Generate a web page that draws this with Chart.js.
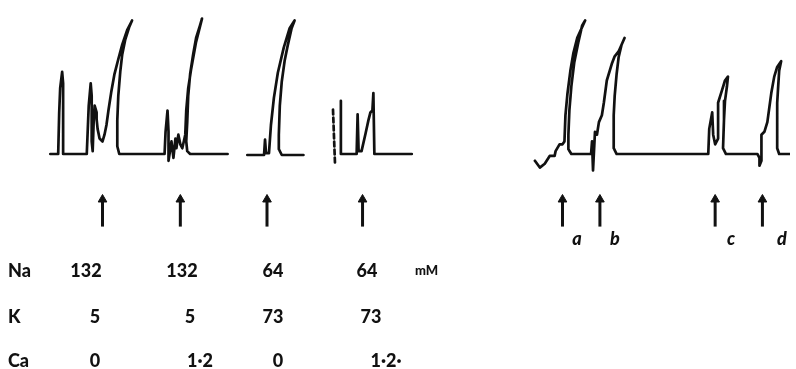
<!DOCTYPE html>
<html>
<head>
<meta charset="utf-8">
<script src="https://cdn.jsdelivr.net/npm/chart.js@4/dist/chart.umd.min.js"></script>
<style>
  html, body { margin: 0; padding: 0; background: #fff; }
  #wrap { position: relative; width: 796px; height: 369px; overflow: hidden; }
  canvas { position: absolute; left: 0; top: 0; }
  .t { position: absolute; font-family: Lato, "Open Sans", sans-serif; font-weight: 900; font-size: 18px; color: #111; transform: translate(-50%, -50%); white-space: nowrap; line-height: 1; }
  .l { transform: translate(0, -50%); }
  .unit { font-size: 13px; transform: translate(0, -50%); }
  .lab { font-style: italic; font-size: 18px; }
</style>
</head>
<body>
<div id="wrap">
<canvas id="c" width="796" height="369"></canvas>
</div>
<script>
// ---- Data (time units, deflection above baseline) ----
// Left record, first sweep (Na 132 / K 5, Ca 0 then Ca 1.2)
const sweep1 = [[45,0],[53,0],[54,43],[55,68],[57,85],[58,73],[58,33],[58,0],[82,0],[84,50],[86,73],[87,60],[87,13],[88,3],[89,33],[90,50],[92,43],[92,36],[93,26],[95,16],[98,13],[100,20],[102,30],[104,45],[107,65],[110,82],[114,98],[118,113],[123,128],[128,138],[125,131],[121,118],[118,103],[116,85],[114,60],[113,35],[113,8],[115,0],[161,0],[162,23],[164,45],[165,23],[165,-7],[168,13],[170,-4],[172,16],[173,6],[175,20],[177,10],[179,6],[182,20],[183,45],[185,68],[188,88],[193,116],[199,140],[197,133],[193,120],[190,103],[187,83],[185,60],[184,33],[183,13],[184,3],[187,0],[225,0]];
// Left record, Na 64 / K 73, Ca 0
const sweep2 = [[245,-1],[262,-1],[263,15],[264,1],[267,1],[269,30],[272,58],[276,84],[282,110],[288,130],[293,138],[290,130],[286,112],[283,97],[280,75],[278,50],[277,20],[277,5],[280,-1],[302,-1]];
// Left record, Na 64 / K 73, Ca 1.2 (broken pen fragment then trace)
const sweep3Fragment = [[332,46],[334,-9]];
const sweep3 = [[340,55],[340,0],[356,0],[357,41],[358,3],[361,3],[365,21],[368,35],[370,43],[372,45],[373,63],[374,0],[412,0]];
// Right record, stimuli a-d
const sweep4 = [[537,-7],[542,-14],[547,-10],[552,-2],[557,-2],[558,3],[562,10],[565,10],[567,13],[568,40],[570,62],[573,86],[576,104],[580,120],[588,138],[585,133],[581,115],[577,95],[574,70],[572,45],[571,20],[571,5],[574,0],[594,0],[595,13],[596,-17],[598,23],[600,20],[602,33],[605,40],[607,53],[610,76],[615,93],[618,101],[622,106],[628,120],[625,113],[622,100],[620,83],[618,60],[617,40],[617,6],[620,0],[713,0],[714,26],[717,43],[718,20],[720,10],[723,16],[723,53],[727,66],[730,76],[733,80],[732,70],[730,55],[729,36],[728,6],[731,0],[763,0],[765,-4],[765,-12],[767,-7],[767,20],[770,23],[773,33],[777,63],[780,80],[783,90],[787,96],[785,86],[784,70],[783,53],[783,6],[785,0],[796,0]];
// Stimulus markers (arrow times)
const arrowTimes = [98, 177, 265, 362, 565, 603, 720, 768];
const arrowTail = -75;
const arrowHead = -47;
// Table text
const ions = ["Na", "K", "Ca"];
const naValues = ["132", "132", "64", "64"];
const kValues = ["5", "5", "73", "73"];
const caValues = ["0", "1·2", "0", "1·2·"];
const stimLabels = ["a", "b", "c", "d"];

const toPts = arr => arr.map(p => ({x: p[0], y: p[1]}));
const traceStyle = { borderColor: '#111', borderWidth: 2.7, pointRadius: 0, tension: 0, fill: false, borderJoinStyle: 'round', borderCapStyle: 'round' };

const datasets = [
  Object.assign({ data: toPts(sweep1) }, traceStyle),
  Object.assign({ data: toPts(sweep2) }, traceStyle),
  Object.assign({ data: toPts(sweep3) }, traceStyle),
  Object.assign({ data: toPts(sweep3Fragment), borderDash: [5, 3] }, traceStyle),
  Object.assign({ data: toPts(sweep4) }, traceStyle)
];
arrowTimes.forEach(t => {
  datasets.push({
    data: [{x: t, y: arrowTail}, {x: t, y: arrowHead}],
    borderColor: '#111', borderWidth: 3, tension: 0, fill: false,
    pointStyle: 'triangle', pointRadius: [0, 5], pointBackgroundColor: '#111', pointBorderColor: '#111', pointBorderWidth: 1,
    borderCapStyle: 'butt'
  });
});

new Chart(document.getElementById('c'), {
  type: 'line',
  data: { datasets },
  options: {
    responsive: false,
    animation: false,
    layout: { padding: 0 },
    plugins: { legend: { display: false }, tooltip: { enabled: false } },
    scales: {
      x: { type: 'linear', min: 0, max: 796, display: false },
      y: { type: 'linear', min: -216, max: 153, display: false }
    }
  }
});

// ---- Text as HTML ----
const wrap = document.getElementById('wrap');
function addText(txt, x, y, cls) {
  const d = document.createElement('div');
  d.className = 't ' + (cls || '');
  d.textContent = txt;
  d.style.left = x + 'px';
  d.style.top = y + 'px';
  wrap.appendChild(d);
}
const rowY = [270, 316, 360];
ions.forEach((ion, i) => addText(ion, 8, rowY[i], 'l'));
const naX = [86, 182, 273, 367];
const kX = [95, 190, 273, 371];
const caX = [95, 200, 278, 386];
naValues.forEach((v, i) => addText(v, naX[i], rowY[0]));
kValues.forEach((v, i) => addText(v, kX[i], rowY[1]));
caValues.forEach((v, i) => addText(v, caX[i], rowY[2]));
addText("mM", 415, rowY[0], 'unit');
const labX = [577, 615, 731, 782];
stimLabels.forEach((s, i) => addText(s, labX[i], 238, 'lab'));
</script>
</body>
</html>
